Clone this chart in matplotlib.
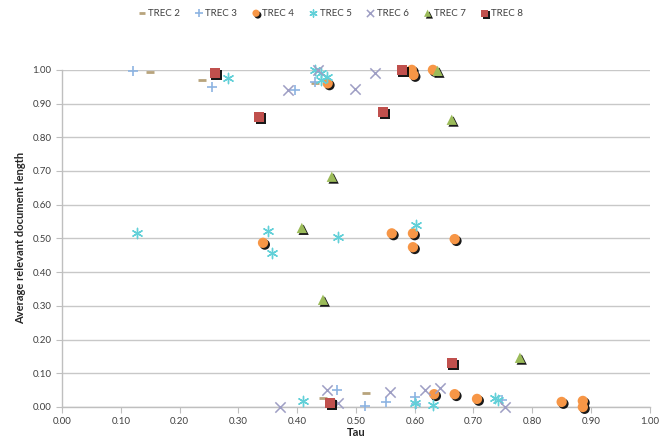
import matplotlib
matplotlib.use("Agg")
import matplotlib.pyplot as plt
import matplotlib.patheffects as pe

series_names = ["TREC 2", "TREC 3", "TREC 4", "TREC 5", "TREC 6", "TREC 7", "TREC 8"]

trec2_tau = [0.150, 0.238, 0.430, 0.444, 0.517]
trec2_len = [0.995, 0.970, 0.960, 0.027, 0.042]

trec3_tau = [0.121, 0.255, 0.396, 0.430, 0.468, 0.515, 0.551, 0.600, 0.602, 0.748]
trec3_len = [0.997, 0.949, 0.940, 0.964, 0.050, 0.003, 0.015, 0.030, 0.008, 0.020]

trec4_tau = [0.452, 0.595, 0.598, 0.631, 0.342, 0.561, 0.597, 0.597, 0.668,
             0.633, 0.668, 0.706, 0.850, 0.886, 0.886]
trec4_len = [0.960, 1.000, 0.985, 1.000, 0.487, 0.515, 0.515, 0.474, 0.498,
             0.038, 0.038, 0.024, 0.015, 0.018, 0.000]

trec5_tau = [0.282, 0.430, 0.440, 0.450, 0.440, 0.128, 0.350, 0.357, 0.469, 0.603,
             0.410, 0.600, 0.631, 0.736, 0.742]
trec5_len = [0.976, 1.000, 0.990, 0.980, 0.970, 0.516, 0.522, 0.457, 0.504, 0.540,
             0.018, 0.012, 0.006, 0.027, 0.020]

trec6_tau = [0.385, 0.498, 0.532, 0.435, 0.371, 0.450, 0.558, 0.617, 0.643, 0.469, 0.753]
trec6_len = [0.940, 0.943, 0.990, 1.000, 0.000, 0.050, 0.045, 0.050, 0.056, 0.012, 0.000]

trec7_tau = [0.639, 0.663, 0.459, 0.408, 0.444, 0.779]
trec7_len = [0.997, 0.852, 0.683, 0.531, 0.318, 0.146]

trec8_tau = [0.260, 0.335, 0.578, 0.546, 0.456, 0.663]
trec8_len = [0.990, 0.861, 1.000, 0.875, 0.012, 0.130]

x_ticks = [0.0, 0.1, 0.2, 0.3, 0.4, 0.5, 0.6, 0.7, 0.8, 0.9, 1.0]
y_ticks = [0.0, 0.1, 0.2, 0.3, 0.4, 0.5, 0.6, 0.7, 0.8, 0.9, 1.0]

plt.rcParams['font.family'] = ['Lato', 'DejaVu Sans']

fig = plt.figure(figsize=(6.65, 4.43), dpi=100)
ax = fig.add_axes([0.0932, 0.0813, 0.884, 0.761])

shadow = [pe.SimplePatchShadow(offset=(1.3, -1.3), shadow_rgbFace='black', alpha=0.9), pe.Normal()]

styles = [
    (trec2_tau, trec2_len, dict(marker='_', color='#b8a47c', s=30, linewidths=2.0), False),
    (trec3_tau, trec3_len, dict(marker='+', color='#8db4e2', s=55, linewidths=1.2), False),
    (trec4_tau, trec4_len, dict(marker='o', color='#f79646', s=55, linewidths=0), True),
    (trec5_tau, trec5_len, dict(marker=(6, 2, 0), color='#62d0d8', s=55, linewidths=1.0), False),
    (trec6_tau, trec6_len, dict(marker='x', color='#9e9ec4', s=55, linewidths=1.1), False),
    (trec7_tau, trec7_len, dict(marker='^', color='#9bbb59', s=55, linewidths=0), True),
    (trec8_tau, trec8_len, dict(marker='s', color='#c0504d', s=55, linewidths=0), True),
]

for name, (xs, ys, kw, shad) in zip(series_names, styles):
    sc = ax.scatter(xs, ys, label=name, clip_on=False, zorder=3, **kw)
    if shad:
        sc.set_path_effects(shadow)
        sc.set_edgecolor('#ffffff55')

ax.set_xlim(0, 1)
ax.set_ylim(0, 1)
ax.set_xticks(x_ticks)
ax.set_yticks(y_ticks)
ax.set_xticklabels([f"{t:.2f}" for t in x_ticks])
ax.set_yticklabels([f"{t:.2f}" for t in y_ticks])
ax.yaxis.grid(True, color='#c8c8c8', linewidth=1.0)
ax.set_axisbelow(True)
for s in ['top', 'right']:
    ax.spines[s].set_visible(False)
for s in ['left', 'bottom']:
    ax.spines[s].set_color('#bfbfbf')
    ax.spines[s].set_linewidth(1.0)
ax.tick_params(axis='both', colors='#bfbfbf', labelcolor='#404040', labelsize=7, length=4, direction='out')
ax.tick_params(axis='x', pad=3)
ax.set_xlabel('Tau', fontsize=8, fontweight='bold', color='#262626', labelpad=1)
ax.set_ylabel('Average relevant document length', fontsize=8, fontweight='bold', color='#262626', labelpad=5)

leg = fig.legend(loc='upper center', bbox_to_anchor=(0.495, 1.0), ncol=7, frameon=False,
                 fontsize=7, handletextpad=0.0, columnspacing=1.3, markerscale=0.7,
                 handlelength=1.3)
for t in leg.get_texts():
    t.set_color('#404040')

fig.savefig('out.png', dpi=100)
